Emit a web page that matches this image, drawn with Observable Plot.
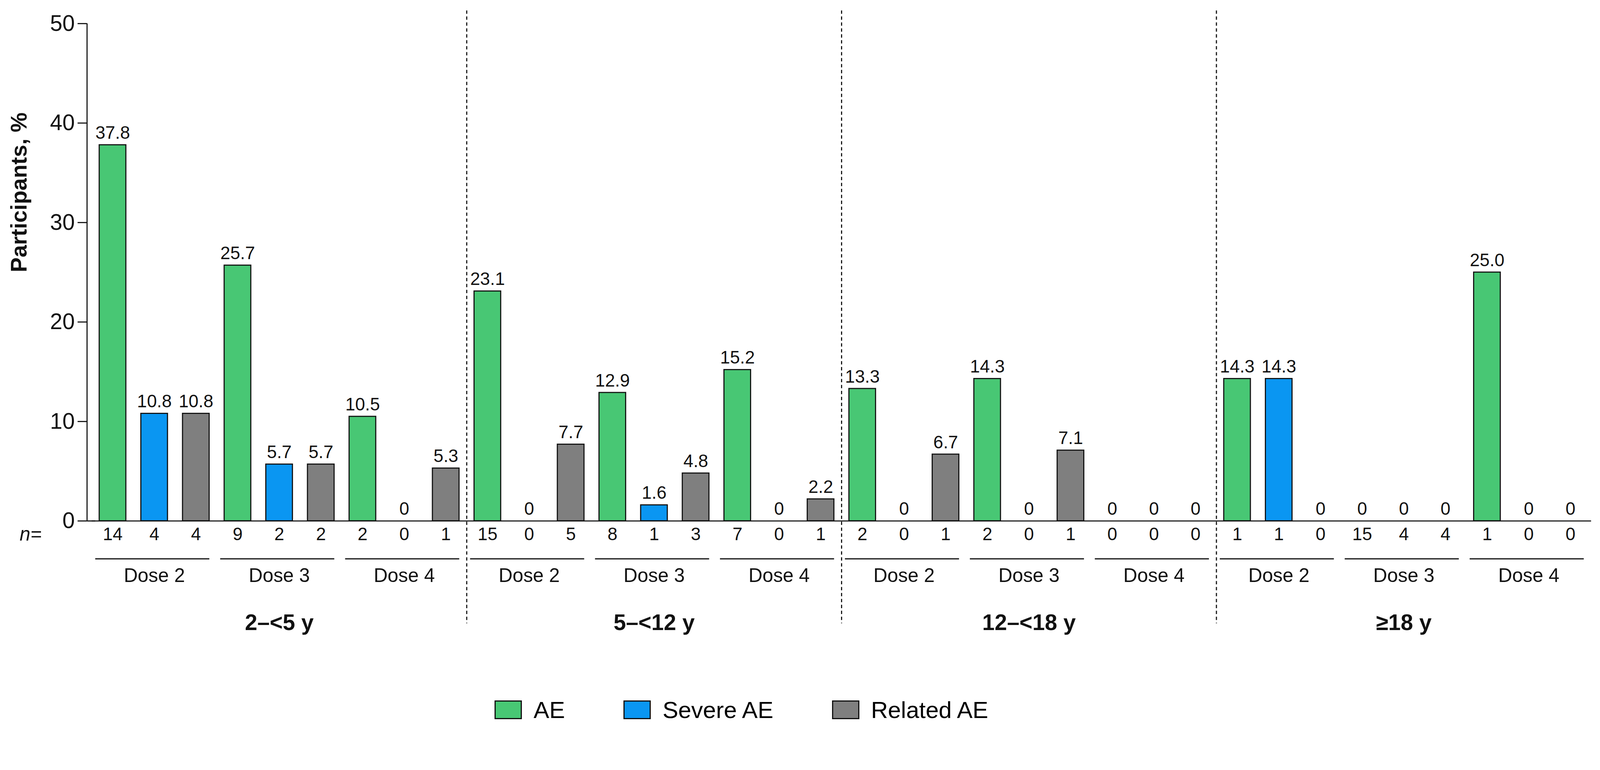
<!DOCTYPE html>
<html><head><meta charset="utf-8">
<script src="https://cdn.jsdelivr.net/npm/d3@7"></script>
<script src="https://cdn.jsdelivr.net/npm/@observablehq/plot@0.6"></script>
<style>
body{margin:0;background:#fff;font-family:Arial,"Liberation Sans",sans-serif;}
#legend{display:flex;justify-content:center;gap:150px;font-size:60px;margin-top:90px;margin-left:-300px}
#legend span{display:inline-flex;align-items:center;gap:30px}
#legend i{display:inline-block;width:70px;height:48px;border:3px solid #111;box-sizing:border-box}
</style></head><body>
<div id="chart"></div>
<div id="legend"></div>
<script>
const ageGroups = ["2–<5 y","5–<12 y","12–<18 y","≥18 y"];
const doses = ["Dose 2","Dose 3","Dose 4"];
const measures = ["AE","Severe AE","Related AE"];
const colors = ["#48C774","#0A96F2","#7F7F7F"];
// values[age][dose][measure]
const values = [
  [[37.8,10.8,10.8],[25.7,5.7,5.7],[10.5,0,5.3]],
  [[23.1,0,7.7],[12.9,1.6,4.8],[15.2,0,2.2]],
  [[13.3,0,6.7],[14.3,0,7.1],[0,0,0]],
  [[14.3,14.3,0],[0,0,0],[25.0,0,0]]
];
const counts = [
  [[14,4,4],[9,2,2],[2,0,1]],
  [[15,0,5],[8,1,3],[7,0,1]],
  [[2,0,1],[2,0,1],[0,0,0]],
  [[1,1,0],[15,4,4],[1,0,0]]
];
const rows=[], doseRows=[], ageRows=[];
let i=0;
ageGroups.forEach((a,ai)=>{
  ageRows.push({age:a, i:i+4});
  doses.forEach((d,di)=>{
    doseRows.push({dose:d, i:i+1, first:i, last:i+2});
    measures.forEach((m,mi)=>{
      rows.push({age:a,dose:d,measure:m,i,value:values[ai][di][mi],n:counts[ai][di][mi]});
      i++;
    });
  });
});
const seps = ageGroups.slice(1).map((_,k)=>9*(k+1)-0.5);
const fmt = v => v===0 ? "0" : v.toFixed(1);
const hw = 0.32;
const chart = Plot.plot({
  width:4310, height:1780,
  marginLeft:247, marginRight:24, marginTop:63, marginBottom:378,
  style:{fontFamily:"Arial, 'Liberation Sans', sans-serif", fontSize:"55px", color:"#111"},
  x:{domain:[-0.5,35.5], axis:null},
  y:{domain:[0,50], label:null},
  color:{domain:measures, range:colors},
  marks:[
    Plot.axisY({ticks:[0,10,20,30,40,50], tickSize:25, tickPadding:8, fontSize:60, dx:-13, strokeWidth:3, label:null}),
    Plot.ruleX([-0.5],{y1:0,y2:50,dx:-13,stroke:"#111",strokeWidth:3}),
    Plot.text(["Participants, %"],{frameAnchor:"left",y:25,rotate:-90,dx:-195,fontSize:60,fontWeight:"bold"}),
    Plot.rectY(rows,{x1:d=>d.i-hw,x2:d=>d.i+hw,y:"value",fill:"measure",stroke:"#111",strokeWidth:3}),
    Plot.ruleY([0],{stroke:"#111",strokeWidth:3,x1:-0.5,x2:35.5}),
    Plot.ruleY([0],{stroke:"#111",strokeWidth:3,x1:-0.5,x2:-0.3,dx:-13}),
    Plot.ruleX(seps,{y1:51.3,y2:-10.3,stroke:"#111",strokeWidth:3,strokeDasharray:"9,7"}),
    Plot.text(rows,{x:"i",y:"value",text:d=>fmt(d.value),dy:-32,fontSize:48}),
    Plot.text(rows,{x:"i",y:0,text:d=>String(d.n),dy:36,fontSize:48}),
    Plot.text(["n="],{x:-0.5,y:0,dy:36,dx:-165,fontSize:52,fontStyle:"italic"}),
    Plot.link(doseRows,{x1:d=>d.first-hw-0.1,x2:d=>d.last+hw,y1:0,y2:0,dy:102,stroke:"#111",strokeWidth:3}),
    Plot.text(doseRows,{x:"i",y:0,text:"dose",dy:148,fontSize:52}),
    Plot.text(ageRows,{x:"i",y:0,text:"age",dy:275,fontSize:60,fontWeight:"bold"})
  ]
});
document.getElementById("chart").append(chart);
document.getElementById("legend").innerHTML = measures.map((m,k)=>`<span><i style="background:${colors[k]}"></i>${m}</span>`).join("");
</script>
</body></html>
